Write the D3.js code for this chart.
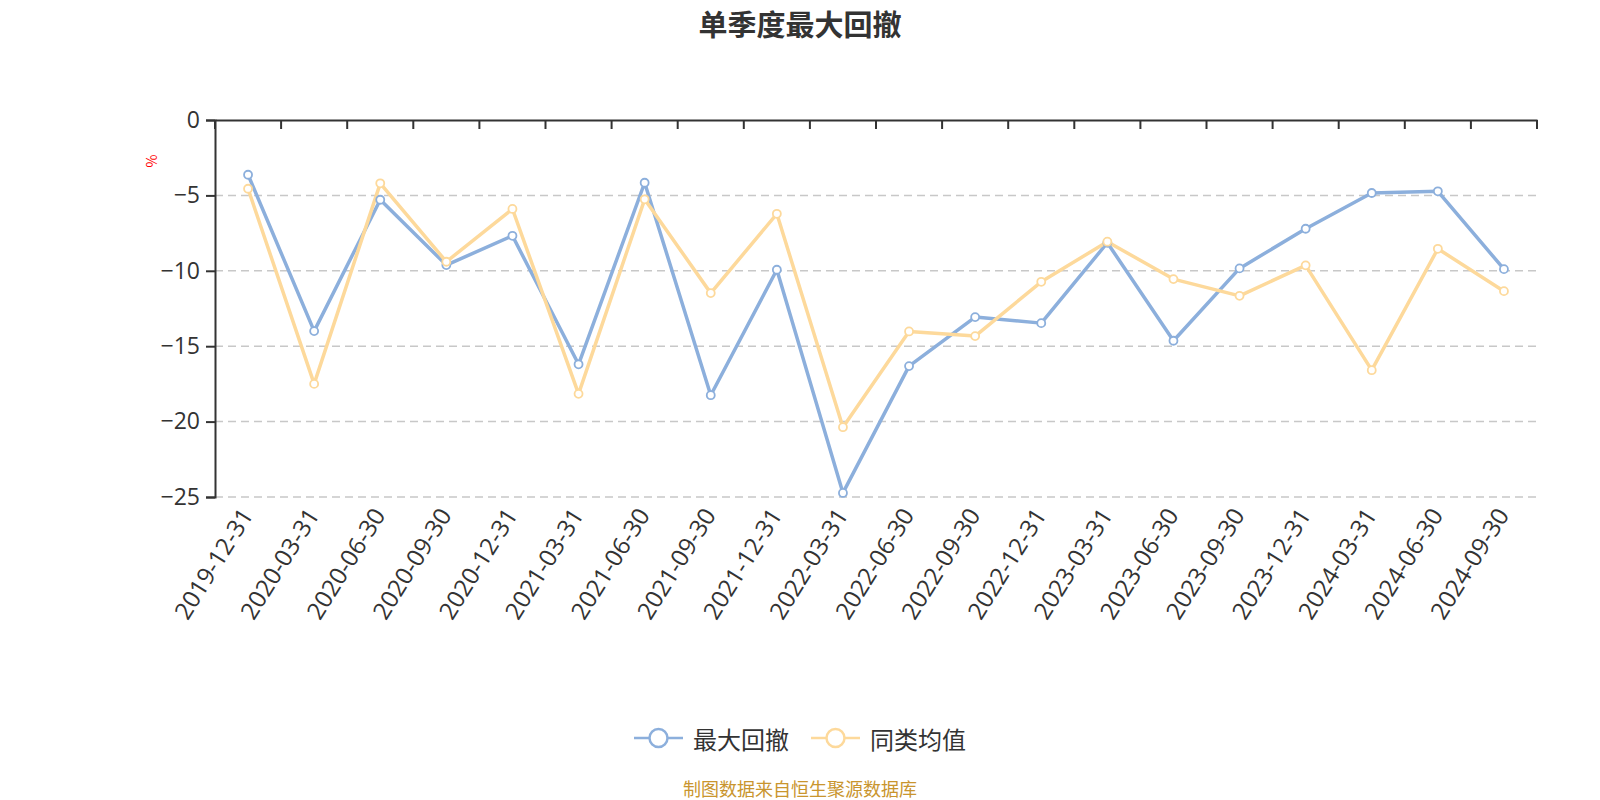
<!DOCTYPE html>
<html><head><meta charset="utf-8">
<script src="https://cdn.jsdelivr.net/npm/d3@7"></script>
<style>body{margin:0;background:#fff}svg{display:block}</style>
</head><body><svg id="c" width="1600" height="800" font-family="'Noto Sans CJK SC','Noto Sans',sans-serif"></svg>
<script>
const categories = ["2019-12-31","2020-03-31","2020-06-30","2020-09-30","2020-12-31","2021-03-31","2021-06-30","2021-09-30","2021-12-31","2022-03-31","2022-06-30","2022-09-30","2022-12-31","2023-03-31","2023-06-30","2023-09-30","2023-12-31","2024-03-31","2024-06-30","2024-09-30"];
const maxDrawdown = [-3.63,-14.0,-5.29,-9.62,-7.68,-16.2,-4.16,-18.25,-9.93,-24.73,-16.32,-13.07,-13.47,-8.14,-14.64,-9.84,-7.21,-4.84,-4.73,-9.89];
const peerAverage = [-4.56,-17.5,-4.2,-9.4,-5.9,-18.16,-5.26,-11.48,-6.22,-20.37,-14.02,-14.33,-10.73,-8.07,-10.55,-11.66,-9.64,-16.59,-8.54,-11.35];
const yTicks = [0,-5,-10,-15,-20,-25];
const seriesNames = ["最大回撤","同类均值"];
const colors = ["#8cafdc","#fdd99b"];
const numFont = "'Open Sans','Noto Sans',sans-serif";

const svg = d3.select("#c");
const x = d3.scaleBand().domain(categories).range([215,1537]);
const y = d3.scaleLinear().domain([-25,0]).range([497,120]);
const cx = d => x(d) + x.bandwidth()/2;

// title
svg.append("text").attr("x",800).attr("y",23).attr("text-anchor","middle").attr("dominant-baseline","central")
  .attr("font-size",29).attr("font-weight","bold").attr("fill","#333").text("单季度最大回撤");

// grid
svg.append("g").selectAll("line").data(yTicks.filter(t=>t!==0)).join("line")
  .attr("x1",215).attr("x2",1537).attr("y1",d=>y(d)).attr("y2",d=>y(d))
  .attr("stroke","#c8c8c8").attr("stroke-width",1.5).attr("stroke-dasharray","8,5");

// y axis
const yAxis = d3.axisLeft(y).tickValues(yTicks).tickSize(9).tickPadding(6).tickFormat(d3.format("d"));
const gy = svg.append("g").attr("transform","translate(215,0)").call(yAxis);
gy.attr("font-family",null).attr("font-size",null);
gy.select(".domain").attr("stroke","#333").attr("stroke-width",2);
gy.selectAll(".tick line").attr("stroke","#333").attr("stroke-width",2);
gy.selectAll(".tick text").attr("font-size",23).attr("fill","#333").attr("font-family",numFont);

// x axis at zero (top)
const xAxis = d3.axisBottom(x).tickSize(0).tickFormat("");
const gx = svg.append("g").attr("transform",`translate(0,${y(0)})`).call(xAxis);
gx.select(".domain").attr("stroke","#333").attr("stroke-width",2);
const bounds = categories.map(c=>x(c)).concat([x(categories[categories.length-1])+x.bandwidth()]);
svg.append("g").selectAll("line").data(bounds).join("line")
  .attr("x1",d=>d).attr("x2",d=>d).attr("y1",y(0)).attr("y2",y(0)+9)
  .attr("stroke","#333").attr("stroke-width",2);

// x labels at bottom
svg.append("g").selectAll("text").data(categories).join("text")
  .attr("transform",d=>`translate(${cx(d)-2},${y(-25)+13}) rotate(-58)`)
  .attr("text-anchor","end").attr("dominant-baseline","central")
  .attr("font-size",24).attr("fill","#333").attr("font-family",numFont).text(d=>d);

// unit label
svg.append("text").attr("transform","translate(151,161) rotate(-90)").attr("text-anchor","middle")
  .attr("dominant-baseline","central").attr("font-size",14).attr("fill","#f00").text("%");

// series
const series = [maxDrawdown, peerAverage];
const line = d3.line().x((d,i)=>cx(categories[i])).y(d=>y(d));
series.forEach((s,k)=>{
  svg.append("path").datum(s).attr("d",line).attr("fill","none").attr("stroke",colors[k]).attr("stroke-width",3.5)
    .attr("stroke-linejoin","round");
});
series.forEach((s,k)=>{
  svg.append("g").selectAll("circle").data(s).join("circle")
    .attr("cx",(d,i)=>cx(categories[i])).attr("cy",d=>y(d)).attr("r",4)
    .attr("fill","#fff").attr("stroke",colors[k]).attr("stroke-width",1.8);
});

// legend
const legendX = [634, 811];
seriesNames.forEach((n,k)=>{
  const g = svg.append("g").attr("transform",`translate(${legendX[k]},738)`);
  g.append("line").attr("x1",0).attr("x2",49).attr("stroke",colors[k]).attr("stroke-width",2.5);
  g.append("circle").attr("cx",24.5).attr("r",9).attr("fill","#fff").attr("stroke",colors[k]).attr("stroke-width",2.5);
  g.append("text").attr("x",59).attr("y",0).attr("dominant-baseline","central").attr("font-size",24).attr("fill","#333").text(n);
});

// footer
svg.append("text").attr("x",800).attr("y",788).attr("text-anchor","middle").attr("dominant-baseline","central")
  .attr("font-size",18).attr("fill","#c9952e").text("制图数据来自恒生聚源数据库");
</script></body></html>
